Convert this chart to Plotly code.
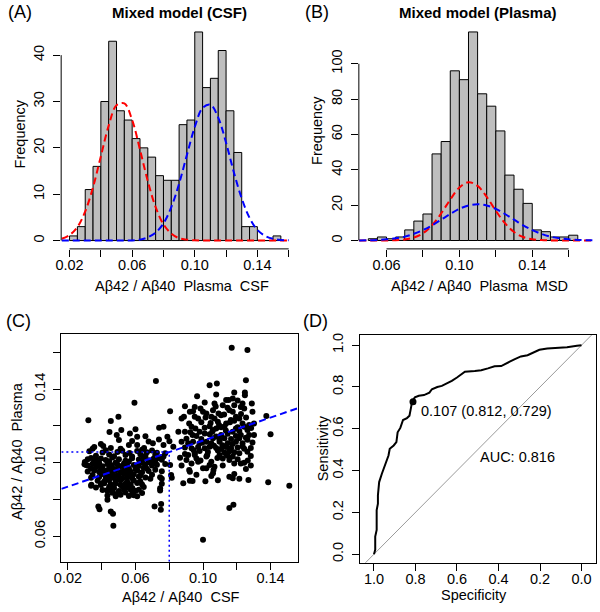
import plotly.graph_objects as go

FONT = "Liberation Sans, Arial, Helvetica, sans-serif"
W, H = 600, 612


def px(x):
    return x / W


def py(y):
    return 1 - y / H


# ---------------- Panel A : Mixed model (CSF) ----------------
a_bin_centers = [0.0225, 0.0275, 0.0325, 0.0375, 0.0425, 0.0475, 0.0525, 0.0575, 0.0625,
                 0.0675, 0.0725, 0.0775, 0.0825, 0.0875, 0.0925, 0.0975, 0.1025, 0.1075,
                 0.1125, 0.1175, 0.1225, 0.1275, 0.1325, 0.1375, 0.1425, 0.1475, 0.1525]
a_counts = [1, 3, 11, 16, 30, 43, 28, 26, 22, 20, 18, 14, 13, 13, 25, 26, 45, 33, 35, 41,
            28, 19, 3, 3, 0, 0, 1]
a_curve_x = [0.015, 0.020, 0.025, 0.030, 0.035, 0.040, 0.045, 0.050, 0.055, 0.060,
             0.065, 0.070, 0.075, 0.080, 0.085, 0.090, 0.095, 0.100, 0.105, 0.110,
             0.115, 0.120, 0.125, 0.130, 0.135, 0.140, 0.145, 0.150, 0.155, 0.160]
a_red = [0.4, 1.2, 2.9, 6.3, 11.5, 18.2, 24.8, 29.2, 29.6, 26.0,
         19.6, 12.8, 7.2, 3.5, 1.5, 0.5, 0.2, 0.05, 0, 0,
         0, 0, 0, 0, 0, 0, 0, 0, 0, 0]
a_blue = [0, 0, 0, 0, 0, 0, 0, 0, 0, 0,
          0.2, 0.7, 1.7, 3.7, 7.2, 12.3, 18.5, 24.5, 28.6, 29.3,
          26.5, 21.1, 14.7, 9.1, 4.9, 2.3, 1.0, 0.37, 0.12, 0.04]
a_xticks = [0.02, 0.04, 0.06, 0.08, 0.10, 0.12, 0.14, 0.16]
a_xticklabels = ["0.02", "", "0.06", "", "0.10", "", "0.14", ""]
a_yticks = [0, 10, 20, 30, 40]

# ---------------- Panel B : Mixed model (Plasma) ----------------
b_bin_centers = [0.0525, 0.0575, 0.0625, 0.0675, 0.0725, 0.0775, 0.0825, 0.0875, 0.0925,
                 0.0975, 0.1025, 0.1075, 0.1125, 0.1175, 0.1225, 0.1275, 0.1325, 0.1375,
                 0.1425, 0.1475, 0.1525, 0.1575, 0.1625]
b_counts = [1, 2, 1, 2, 6, 11, 15, 49, 56, 96, 91, 118, 83, 76, 62, 37, 29, 21, 6, 5, 2, 2, 3]
b_curve_x = [0.045, 0.050, 0.055, 0.060, 0.065, 0.070, 0.075, 0.080, 0.085, 0.090,
             0.095, 0.100, 0.105, 0.110, 0.115, 0.120, 0.125, 0.130, 0.135, 0.140,
             0.145, 0.150, 0.155, 0.160, 0.165, 0.170, 0.175]
b_red = [0, 0, 0, 0.04, 0.17, 0.6, 1.7, 4.1, 8.6, 15.3,
         23.2, 30.0, 33.0, 30.9, 24.7, 16.8, 9.8, 4.8, 2.0, 0.73,
         0.22, 0.06, 0, 0, 0, 0, 0]
b_blue = [0.06, 0.14, 0.31, 0.65, 1.24, 2.2, 3.8, 5.9, 8.6, 11.8,
          15.0, 17.9, 19.8, 20.5, 19.8, 17.9, 15.0, 11.8, 8.6, 5.9,
          3.8, 2.2, 1.24, 0.65, 0.31, 0.14, 0.06]
b_xticks = [0.06, 0.08, 0.10, 0.12, 0.14, 0.16]
b_xticklabels = ["0.06", "", "0.10", "", "0.14", ""]
b_yticks = [0, 20, 40, 60, 80, 100]

# ---------------- Panel C : CSF vs Plasma scatter ----------------
left_csf = [
    0.0327, 0.0405, 0.0424, 0.0493, 0.0522, 0.0565, 0.0610, 0.0639, 0.0668, 0.0698, 0.0727,
    0.0366, 0.0444, 0.0473, 0.0541, 0.0580, 0.0629, 0.0659, 0.0717, 0.0766,
    0.0317, 0.0337, 0.0366, 0.0395, 0.0424, 0.0463, 0.0502, 0.0541, 0.0580, 0.0620, 0.0649, 0.0678, 0.0707, 0.0737, 0.0756,
    0.0356, 0.0385, 0.0444, 0.0483, 0.0532, 0.0561, 0.0639, 0.0688, 0.0717,
    0.0298, 0.0317, 0.0346, 0.0376, 0.0405, 0.0434, 0.0460, 0.0493, 0.0522, 0.0551, 0.0590, 0.0620, 0.0659, 0.0698, 0.0727, 0.0776,
    0.0337, 0.0366, 0.0395, 0.0444, 0.0473, 0.0502, 0.0532, 0.0561, 0.0600, 0.0649, 0.0668, 0.0717,
    0.0317, 0.0356, 0.0385, 0.0424, 0.0454, 0.0483, 0.0512, 0.0541, 0.0571, 0.0610, 0.0639, 0.0678, 0.0756,
    0.0346, 0.0405, 0.0434, 0.0463, 0.0493, 0.0532, 0.0561, 0.0590, 0.0629, 0.0698,
    0.0337, 0.0385, 0.0424, 0.0444, 0.0473, 0.0502, 0.0522, 0.0551, 0.0580, 0.0620, 0.0659, 0.0688, 0.0746, 0.0815,
    0.0376, 0.0415, 0.0444, 0.0483, 0.0512, 0.0551, 0.0590, 0.0629,
    0.0339, 0.0395, 0.0415, 0.0454, 0.0483, 0.0512, 0.0541, 0.0571, 0.0610, 0.0639, 0.0756,
    0.0366, 0.0444, 0.0473, 0.0522, 0.0551, 0.0581, 0.0649,
    0.0405, 0.0434, 0.0463, 0.0502, 0.0532, 0.0571, 0.0600, 0.0620, 0.0746,
    0.0463, 0.0493, 0.0541, 0.0581, 0.0639,
    0.0434, 0.0483, 0.0512, 0.0561, 0.0590, 0.0610,
]
left_plasma = [
    0.1062, 0.1055, 0.1068, 0.1058, 0.1065, 0.1052, 0.1063, 0.1070, 0.1057, 0.1066, 0.1054,
    0.1038, 0.1045, 0.1035, 0.1042, 0.1033, 0.1046, 0.1037, 0.1041, 0.1034,
    0.1018, 0.1026, 0.1012, 0.1022, 0.1015, 0.1028, 0.1019, 0.1011, 0.1024, 0.1017, 0.1027, 0.1013, 0.1021, 0.1025, 0.1016,
    0.1003, 0.0998, 0.1008, 0.1001, 0.0996, 0.1007, 0.1002, 0.0999, 0.1006,
    0.0992, 0.0985, 0.0994, 0.0988, 0.0981, 0.0993, 0.0986, 0.0990, 0.0983, 0.0995, 0.0987, 0.0982, 0.0991, 0.0984, 0.0989, 0.0993,
    0.0968, 0.0975, 0.0963, 0.0971, 0.0966, 0.0974, 0.0962, 0.0970, 0.0965, 0.0973, 0.0967, 0.0961,
    0.0952, 0.0958, 0.0949, 0.0956, 0.0951, 0.0959, 0.0947, 0.0954, 0.0950, 0.0957, 0.0948, 0.0955, 0.0953,
    0.0933, 0.0938, 0.0929, 0.0936, 0.0931, 0.0939, 0.0932, 0.0937, 0.0930, 0.0935,
    0.0918, 0.0922, 0.0915, 0.0921, 0.0917, 0.0924, 0.0914, 0.0920, 0.0916, 0.0923, 0.0919, 0.0913, 0.0921, 0.0918,
    0.0902, 0.0897, 0.0905, 0.0899, 0.0904, 0.0896, 0.0903, 0.0898,
    0.0880, 0.0884, 0.0888, 0.0882, 0.0887, 0.0879, 0.0886, 0.0883, 0.0889, 0.0881, 0.0885,
    0.0865, 0.0869, 0.0863, 0.0870, 0.0866, 0.0862, 0.0868,
    0.0852, 0.0848, 0.0855, 0.0846, 0.0851, 0.0854, 0.0847, 0.0853, 0.0849,
    0.0836, 0.0832, 0.0838, 0.0833, 0.0835,
    0.0822, 0.0818, 0.0825, 0.0819, 0.0823, 0.0817,
]
upper_left_csf = [0.0446, 0.0516, 0.0567, 0.0600, 0.0740, 0.0766, 0.0659, 0.0489, 0.0610, 0.0502,
                  0.0789, 0.0801, 0.0395, 0.0409, 0.0561, 0.0610, 0.0703, 0.0739, 0.0766, 0.0824,
                  0.0454, 0.0512, 0.0651, 0.0678, 0.0580, 0.0356]
upper_left_plasma = [0.1166, 0.1177, 0.1159, 0.1182, 0.1190, 0.1195, 0.1144, 0.1150, 0.1141, 0.1123,
                     0.1141, 0.1117, 0.1101, 0.1090, 0.1096, 0.1096, 0.1105, 0.1126, 0.1096, 0.1087,
                     0.1080, 0.1075, 0.1080, 0.1115, 0.1118, 0.1085]
between_csf = [0.0805, 0.0811, 0.0776, 0.0756, 0.0405, 0.0395, 0.0434, 0.0307, 0.0300, 0.0346, 0.0873]
between_plasma = [0.0987, 0.0933, 0.1051, 0.0912, 0.0888, 0.0879, 0.0852, 0.0987, 0.1004, 0.1075, 0.0985]
outlier_csf = [0.1170, 0.1263, 0.0721, 0.1254, 0.1039, 0.1082, 0.0594, 0.0321, 0.0454, 0.0499,
               0.0805, 0.1375, 0.1400, 0.1386, 0.1511, 0.1000, 0.1156, 0.1180, 0.0469, 0.0380,
               0.0387, 0.0454, 0.0467, 0.0713, 0.0752, 0.0750, 0.0337, 0.0434, 0.0746, 0.1269]
outlier_plasma = [0.1625, 0.1612, 0.1444, 0.1448, 0.1421, 0.1430, 0.1325, 0.1231, 0.1226, 0.1249,
                  0.1280, 0.1253, 0.1154, 0.0893, 0.0875, 0.0581, 0.0753, 0.0771, 0.0657, 0.0762,
                  0.0747, 0.0735, 0.0722, 0.0762, 0.0776, 0.0744, 0.0874, 0.0798, 0.0861, 0.0906]
right_csf = [
    0.1185, 0.1248, 0.1248, 0.0965, 0.1078, 0.1010, 0.1068, 0.1137, 0.1152, 0.1176,
    0.1234, 0.1289, 0.0893, 0.0951, 0.1117, 0.1185, 0.1224, 0.1244, 0.1293, 0.0922,
    0.0941, 0.1000, 0.1020, 0.1059, 0.1092, 0.1107, 0.1156, 0.1176, 0.0873, 0.0887,
    0.0951, 0.0971, 0.1049, 0.1068, 0.1195, 0.1215, 0.1302, 0.0918, 0.0990, 0.1088,
    0.1137, 0.1160, 0.1234, 0.1273, 0.0893, 0.0938, 0.0980, 0.1010, 0.1059, 0.1078,
    0.1107, 0.1127, 0.1176, 0.1195, 0.1224, 0.1263, 0.1273, 0.1302,
    0.0873, 0.0912, 0.0941, 0.0980, 0.1020, 0.1049, 0.1098, 0.1146, 0.1195, 0.1234, 0.1293,
    0.0893, 0.0932, 0.0971, 0.1010, 0.1039, 0.1078, 0.1107, 0.1137, 0.1166, 0.1205, 0.1244, 0.1283,
    0.0883, 0.0922, 0.0938, 0.1014, 0.1156, 0.1185, 0.1176, 0.0918, 0.0922, 0.1000,
    0.1020, 0.1059, 0.1062, 0.1068, 0.0902, 0.0961, 0.0951, 0.1020, 0.1049, 0.1039,
    0.1098, 0.1117, 0.1156, 0.1176, 0.1185, 0.1215, 0.1224, 0.1244, 0.1283, 0.1263,
    0.0893, 0.0912, 0.0951, 0.0980, 0.1029, 0.1088, 0.1127, 0.1137, 0.1156, 0.1185,
    0.0932, 0.1010, 0.1039, 0.1107, 0.1127, 0.1205, 0.1244, 0.0961, 0.1039, 0.1078,
    0.1146, 0.1195, 0.1254, 0.0902, 0.0990, 0.1059, 0.1098, 0.1166, 0.1215, 0.1263,
    0.0932, 0.0971, 0.1117, 0.1254, 0.1283, 0.0961, 0.1049, 0.1088, 0.1215, 0.0854,
    0.0864,
    0.1015, 0.1125, 0.1165, 0.1045, 0.1095, 0.1185, 0.1225, 0.0985, 0.1075, 0.1145,
    0.1205, 0.1255, 0.0955, 0.1055, 0.1135, 0.1215, 0.1285, 0.0925, 0.0995, 0.1115,
    0.1175, 0.1235, 0.1065, 0.0945, 0.1025, 0.1085, 0.1145, 0.1205, 0.1265, 0.0985,
]
right_plasma = [
    0.1381, 0.1381, 0.1367, 0.1361, 0.1370, 0.1327, 0.1321, 0.1340, 0.1340, 0.1349,
    0.1321, 0.1321, 0.1307, 0.1303, 0.1312, 0.1312, 0.1303, 0.1294, 0.1276, 0.1276,
    0.1280, 0.1276, 0.1267, 0.1285, 0.1267, 0.1258, 0.1285, 0.1276, 0.1240, 0.1249,
    0.1249, 0.1240, 0.1249, 0.1240, 0.1249, 0.1240, 0.1213, 0.1213, 0.1219, 0.1222,
    0.1213, 0.1219, 0.1213, 0.1204, 0.1168, 0.1150, 0.1168, 0.1159, 0.1177, 0.1186,
    0.1150, 0.1132, 0.1168, 0.1186, 0.1150, 0.1177, 0.1150, 0.1150,
    0.1114, 0.1105, 0.1114, 0.1105, 0.1114, 0.1105, 0.1114, 0.1105, 0.1114, 0.1105, 0.1110,
    0.1082, 0.1078, 0.1085, 0.1078, 0.1087, 0.1080, 0.1074, 0.1085, 0.1078, 0.1082, 0.1076, 0.1080,
    0.0888, 0.0902, 0.0901, 0.0899, 0.0924, 0.0939, 0.0915, 0.0960, 0.0951, 0.0969,
    0.0969, 0.0942, 0.0960, 0.0978, 0.1014, 0.1023, 0.1042, 0.1033, 0.1005, 0.0987,
    0.1042, 0.1023, 0.1014, 0.1033, 0.0996, 0.1051, 0.0996, 0.1000, 0.1036, 0.1060,
    0.1047, 0.1042, 0.1051, 0.1063, 0.1058, 0.1066, 0.1055, 0.1049, 0.1062, 0.1057,
    0.1195, 0.1190, 0.1198, 0.1192, 0.1197, 0.1193, 0.1195, 0.1145, 0.1155, 0.1142,
    0.1157, 0.1145, 0.1135, 0.1130, 0.1128, 0.1133, 0.1125, 0.1128, 0.1132, 0.1125,
    0.0995, 0.1005, 0.0985, 0.0965, 0.0985, 0.0935, 0.0928, 0.0905, 0.0912, 0.1168,
    0.1027,
    0.1245, 0.1262, 0.1232, 0.1215, 0.1205, 0.1228, 0.1265, 0.1295, 0.1305, 0.1298,
    0.1338, 0.1245, 0.1185, 0.1168, 0.1175, 0.1172, 0.1188, 0.1165, 0.1108, 0.1095,
    0.1102, 0.1088, 0.1092, 0.1068, 0.1042, 0.1025, 0.1038, 0.1018, 0.1012, 0.1012,
]
reg_intercept = 0.0807
reg_slope = 0.313
cutoff_csf = 0.08
c_xrange = [0.0161, 0.156]
c_yrange = [0.0461, 0.1698]
c_xticks = [0.02, 0.04, 0.06, 0.08, 0.10, 0.12, 0.14]
c_xticklabels = ["0.02", "", "0.06", "", "0.10", "", "0.14"]
c_yticks = [0.06, 0.08, 0.10, 0.12, 0.14, 0.16]
c_yticklabels = ["0.06", "", "0.10", "", "0.14", ""]

# ---------------- Panel D : ROC ----------------
roc_spec = [1.0, 0.994, 0.994, 0.987, 0.987, 0.981, 0.981, 0.975, 0.975, 0.962, 0.949, 0.943,
            0.930, 0.924, 0.905, 0.892, 0.886, 0.873, 0.860, 0.841, 0.829, 0.822, 0.816, 0.803,
            0.784, 0.759, 0.733, 0.721, 0.695, 0.673, 0.644, 0.625, 0.600, 0.581, 0.562, 0.514,
            0.483, 0.451, 0.419, 0.387, 0.368, 0.346, 0.321, 0.292, 0.260, 0.232, 0.203, 0.165,
            0.117, 0.070, 0.022, 0.0]
roc_sens = [0.0, 0.021, 0.084, 0.116, 0.211, 0.242, 0.282, 0.322, 0.345, 0.385, 0.417, 0.441,
            0.472, 0.504, 0.520, 0.536, 0.583, 0.604, 0.642, 0.651, 0.662, 0.699, 0.731, 0.750,
            0.758, 0.761, 0.773, 0.789, 0.800, 0.805, 0.818, 0.829, 0.845, 0.861, 0.873, 0.876,
            0.880, 0.889, 0.899, 0.900, 0.908, 0.921, 0.933, 0.946, 0.952, 0.965, 0.978, 0.984,
            0.987, 0.990, 0.997, 1.0]
best_threshold = 0.107
best_spec = 0.812
best_sens = 0.729
auc_value = 0.816
d_xrange = [1.0667, -0.07]
d_yrange = [-0.0415, 1.049]
d_ticks = [0.0, 0.2, 0.4, 0.6, 0.8, 1.0]
d_ticklabels = ["0.0", "0.2", "0.4", "0.6", "0.8", "1.0"]

# ---------------- build figure ----------------
fig = go.Figure()
BAR_STYLE = dict(color="#BEBEBE", line=dict(color="black", width=1))
DASH = "7px,4px"

# A
fig.add_trace(go.Bar(x=a_bin_centers, y=a_counts, width=0.005, marker=BAR_STYLE,
                     xaxis="x", yaxis="y"))
fig.add_trace(go.Scatter(x=a_curve_x, y=a_red, mode="lines", xaxis="x", yaxis="y",
                         line=dict(color="#FF0000", width=2, dash=DASH, shape="spline")))
fig.add_trace(go.Scatter(x=a_curve_x, y=a_blue, mode="lines", xaxis="x", yaxis="y",
                         line=dict(color="#0000FF", width=2, dash=DASH, shape="spline")))
# B
fig.add_trace(go.Bar(x=b_bin_centers, y=b_counts, width=0.005, marker=BAR_STYLE,
                     xaxis="x2", yaxis="y2"))
fig.add_trace(go.Scatter(x=b_curve_x, y=b_red, mode="lines", xaxis="x2", yaxis="y2",
                         line=dict(color="#FF0000", width=2, dash=DASH, shape="spline")))
fig.add_trace(go.Scatter(x=b_curve_x, y=b_blue, mode="lines", xaxis="x2", yaxis="y2",
                         line=dict(color="#0000FF", width=2, dash=DASH, shape="spline")))
# C
all_csf = left_csf + upper_left_csf + between_csf + outlier_csf + right_csf
all_plasma = left_plasma + upper_left_plasma + between_plasma + outlier_plasma + right_plasma
fig.add_trace(go.Scatter(x=all_csf, y=all_plasma, mode="markers", xaxis="x3", yaxis="y3",
                         marker=dict(color="black", size=6, line=dict(width=0))))
reg_x = [c_xrange[0], c_xrange[1]]
reg_y = [reg_intercept + reg_slope * v for v in reg_x]
fig.add_trace(go.Scatter(x=reg_x, y=reg_y, mode="lines", xaxis="x3", yaxis="y3",
                         line=dict(color="#0000FF", width=2, dash=DASH)))
cut_plasma = reg_intercept + reg_slope * cutoff_csf
fig.add_trace(go.Scatter(x=[c_xrange[0], cutoff_csf], y=[cut_plasma, cut_plasma], mode="lines",
                         xaxis="x3", yaxis="y3",
                         line=dict(color="#0000FF", width=1.5, dash="2px,3px")))
fig.add_trace(go.Scatter(x=[cutoff_csf, cutoff_csf], y=[c_yrange[0], cut_plasma], mode="lines",
                         xaxis="x3", yaxis="y3",
                         line=dict(color="#0000FF", width=1.5, dash="2px,3px")))
# D
diag_x = [d_xrange[0], d_xrange[1]]
diag_y = [1 - v for v in diag_x]
fig.add_trace(go.Scatter(x=diag_x, y=diag_y, mode="lines", xaxis="x4", yaxis="y4",
                         line=dict(color="#9A9A9A", width=1)))
fig.add_trace(go.Scatter(x=roc_spec, y=roc_sens, mode="lines", xaxis="x4", yaxis="y4",
                         line=dict(color="black", width=2)))
fig.add_trace(go.Scatter(x=[best_spec], y=[best_sens], mode="markers", xaxis="x4", yaxis="y4",
                         marker=dict(color="black", size=7)))

TICKFONT = dict(family=FONT, size=14.5, color="black")
common = dict(showgrid=False, zeroline=False, ticks="outside", ticklen=7, tickwidth=1,
              tickcolor="black", tickfont=TICKFONT, linecolor="black", linewidth=1)
XSO = -4   # pull x tick labels slightly closer to the axis
YSO = 3    # push y tick labels slightly away

fig.update_layout(
    width=W, height=H, margin=dict(l=0, r=0, t=0, b=0),
    paper_bgcolor="white", plot_bgcolor="white", showlegend=False,
    font=dict(family=FONT, color="black"),
    xaxis=dict(domain=[px(54.8), px(286)], range=[0.01463, 0.16063], anchor="y",
               tickvals=a_xticks, ticktext=a_xticklabels, showline=False,
               ticklabelstandoff=XSO, **common),
    yaxis=dict(domain=[py(247.7), py(21.7)], range=[-1.8, 46.8], anchor="x",
               tickvals=a_yticks, tickangle=-90, showline=False,
               ticklabelstandoff=YSO, **common),
    xaxis2=dict(domain=[px(356), px(594)], range=[0.04481, 0.17394], anchor="y2",
                tickvals=b_xticks, ticktext=b_xticklabels, showline=False,
                ticklabelstandoff=XSO, **common),
    yaxis2=dict(domain=[py(247.7), py(21.7)], range=[-4.74, 122.7], anchor="x2",
                tickvals=b_yticks, tickangle=-90, showline=False,
                ticklabelstandoff=YSO, **common),
    xaxis3=dict(domain=[px(55), px(294)], range=c_xrange, anchor="y3",
                tickvals=c_xticks, ticktext=c_xticklabels, showline=True, mirror=True,
                ticklabelstandoff=XSO, **common),
    yaxis3=dict(domain=[py(561.7), py(333.3)], range=c_yrange, anchor="x3",
                tickvals=c_yticks, ticktext=c_yticklabels, tickangle=-90,
                showline=True, mirror=True, ticklabelstandoff=YSO, **common),
    xaxis4=dict(domain=[px(357.3), px(596)], range=d_xrange, anchor="y4",
                tickvals=d_ticks, ticktext=d_ticklabels, showline=True, mirror=True,
                ticklabelstandoff=XSO, **common),
    yaxis4=dict(domain=[py(562.7), py(334)], range=d_yrange, anchor="x4",
                tickvals=d_ticks, ticktext=d_ticklabels, tickangle=-90,
                showline=True, mirror=True, ticklabelstandoff=YSO, **common),
)

# R-style axis lines spanning only the tick range (panels A and B)
axis_lines = [
    dict(xref="x", yref="y domain", x0=a_xticks[0], x1=a_xticks[-1], y0=0, y1=0),
    dict(xref="x domain", yref="y", x0=0, x1=0, y0=a_yticks[0], y1=a_yticks[-1]),
    dict(xref="x2", yref="y2 domain", x0=b_xticks[0], x1=b_xticks[-1], y0=0, y1=0),
    dict(xref="x2 domain", yref="y2", x0=0, x1=0, y0=b_yticks[0], y1=b_yticks[-1]),
]
for s in axis_lines:
    fig.add_shape(type="line", line=dict(color="black", width=1), **s)


def ann(text, x, y, size=14.5, angle=0, bold=False, xref="paper", yref="paper",
        xanchor="center"):
    fig.add_annotation(text=("<b>%s</b>" % text) if bold else text, x=x, y=y,
                       xref=xref, yref=yref, showarrow=False, textangle=angle,
                       xanchor=xanchor, yanchor="middle",
                       font=dict(family=FONT, size=size, color="black"))


# panel letters
ann("(A)", px(13), py(10), size=18)
ann("(B)", px(314), py(10), size=18)
ann("(C)", px(12), py(320), size=18)
ann("(D)", px(312), py(320), size=18)
# titles
ann("Mixed model (CSF)", px(174.5), py(11), size=15, bold=True)
ann("Mixed model (Plasma)", px(476.7), py(11), size=15, bold=True)
# axis titles
ann("Frequency", px(13), py(132), angle=-90)
ann("Frequency", px(313), py(129), angle=-90)
ann("A\u03b242 / A\u03b240  Plasma  CSF", px(176.7), py(285))
ann("A\u03b242 / A\u03b240  Plasma  MSD", px(478.3), py(285))
ann("A\u03b242 / A\u03b240  CSF", px(175.8), py(597))
ann("A\u03b242 / A\u03b240  Plasma", px(9.5), py(450), angle=-90)
ann("Specificity", px(473), py(595))
ann("Sensitivity", px(320), py(447.5), angle=-90)
# ROC texts
ann("%.3f (%.3f, %.3f)" % (best_threshold, best_spec, best_sens), 0.784, 0.687,
    xref="x4", yref="y4", xanchor="left")
ann("AUC: %.3f" % auc_value, 0.498, 0.464, xref="x4", yref="y4", xanchor="left")

fig.write_html("out.html", config={"displayModeBar": False},
               post_script="document.body.style.margin='0px';"
                           "document.body.style.overflow='hidden';")
